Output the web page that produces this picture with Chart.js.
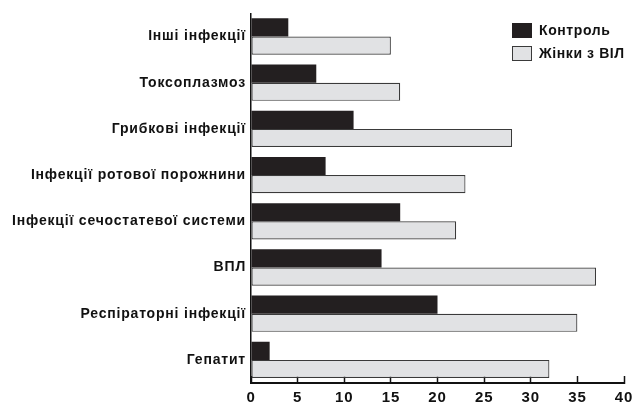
<!DOCTYPE html>
<html lang="uk">
<head>
  <meta charset="UTF-8">
  <title>Інфекції</title>
  <script src="https://cdn.jsdelivr.net/npm/chart.js@4.4.1/dist/chart.umd.min.js"></script>
  <style>
    html, body { margin: 0; padding: 0; background: #fff; }
    #wrap { width: 634px; height: 405px; }
  </style>
</head>
<body>
  <div id="wrap"><canvas id="myChart"></canvas></div>
  <script>
    // дані з рисунка
    const categories = [
      'Інші інфекції',
      'Токсоплазмоз',
      'Грибкові інфекції',
      'Інфекції ротової порожнини',
      'Інфекції сечостатевої системи',
      'ВПЛ',
      'Респіраторні інфекції',
      'Гепатит'
    ];
    const control = [4, 7, 11, 8, 16, 14, 20, 2];
    const hivWomen = [15, 16, 28, 23, 22, 37, 35, 32];
    const xTicks = [0, 5, 10, 15, 20, 25, 30, 35, 40];

    const FONT = 'Liberation Sans, Arial, Helvetica, sans-serif';
    const SPACING = '0.8px';

    // шрифт в оригіналі ширший, тому трохи розводимо літери
    const letterSpacing = {
      id: 'letterSpacing',
      beforeLayout(chart) { chart.ctx.letterSpacing = SPACING; },
      beforeDraw(chart) { chart.ctx.letterSpacing = SPACING; }
    };

    // легенда всередині області графіка (праворуч угорі)
    const innerLegend = {
      id: 'innerLegend',
      afterDraw(chart) {
        const ctx = chart.ctx;
        const x = 512, y0 = 23, boxW = 20, boxH = 15, step = 23;
        ctx.save();
        ctx.letterSpacing = '0.6px';
        ctx.font = 'bold 14px ' + FONT;
        ctx.textBaseline = 'middle';
        chart.data.datasets.forEach((ds, i) => {
          const y = y0 + i * step;
          ctx.fillStyle = ds.backgroundColor;
          ctx.fillRect(x, y, boxW, boxH);
          ctx.lineWidth = 1;
          ctx.strokeStyle = ds.borderColor;
          ctx.strokeRect(x + 0.5, y + 0.5, boxW - 1, boxH - 1);
          ctx.fillStyle = '#111';
          ctx.fillText(ds.label, x + boxW + 7, y + boxH / 2 + 1);
        });
        ctx.restore();
      }
    };

    const ctx = document.getElementById('myChart').getContext('2d');
    new Chart(ctx, {
      type: 'bar',
      data: {
        labels: categories,
        datasets: [
          {
            label: 'Контроль',
            data: control,
            backgroundColor: '#231f20',
            borderColor: '#231f20',
            borderWidth: 0,
            categoryPercentage: 0.785,
            barPercentage: 1.0
          },
          {
            label: 'Жінки з ВІЛ',
            data: hivWomen,
            backgroundColor: '#e1e2e4',
            borderColor: '#3a3a3a',
            borderWidth: 1.2,
            borderSkipped: false,
            categoryPercentage: 0.785,
            barPercentage: 1.0
          }
        ]
      },
      options: {
        indexAxis: 'y',
        responsive: true,
        maintainAspectRatio: false,
        animation: false,
        layout: { padding: { top: 10, right: 10, left: 0, bottom: 0 } },
        plugins: {
          legend: { display: false },
          tooltip: { enabled: false }
        },
        scales: {
          x: {
            min: 0,
            max: 40,
            afterBuildTicks(scale) {
              scale.ticks = xTicks.map(v => ({ value: v }));
            },
            afterFit(scale) {
              scale.height = 22;
              scale.paddingLeft = 0;
              scale.paddingRight = 0;
            },
            grid: {
              drawOnChartArea: false,
              drawTicks: true,
              tickLength: -7,
              tickWidth: 1.5,
              tickColor: '#111'
            },
            border: { display: true, color: '#111', width: 2 },
            ticks: {
              padding: 13,
              color: '#111',
              font: { family: FONT, size: 15, weight: 'bold' }
            }
          },
          y: {
            afterFit(scale) { scale.width = 251; },
            grid: { display: false, drawTicks: false },
            border: { display: true, color: '#111', width: 1.5 },
            ticks: {
              padding: 5,
              color: '#111',
              font: { family: FONT, size: 14, weight: 'bold' }
            }
          }
        }
      },
      plugins: [letterSpacing, innerLegend]
    });
  </script>
</body>
</html>
